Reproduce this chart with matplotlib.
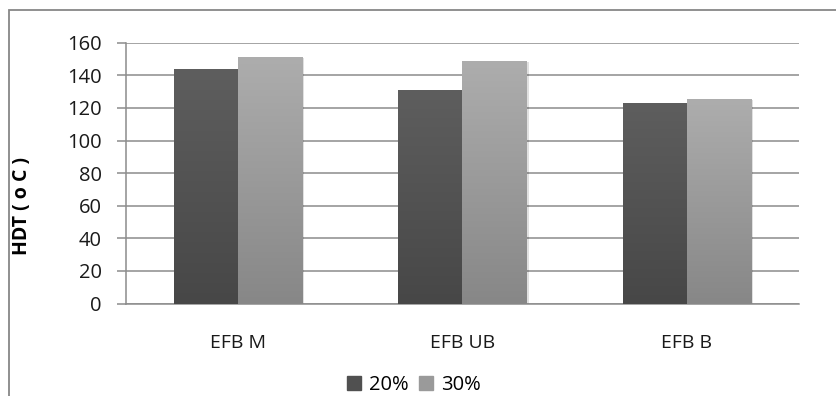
import numpy as np
import matplotlib.pyplot as plt
from matplotlib.colors import LinearSegmentedColormap
from matplotlib.patches import Rectangle

categories = ['EFB M', 'EFB UB', 'EFB B']
series_names = ['20%', '30%']
hdt_20 = [144, 131, 123]
hdt_30 = [151, 149, 125.5]
y_ticks = [0, 20, 40, 60, 80, 100, 120, 140, 160]

dark_top, dark_bottom = '#5e5e5e', '#474747'
light_top, light_bottom = '#adadad', '#878787'
grid_color = '#8c8c8c'

plt.rcParams['font.family'] = ['Open Sans', 'DejaVu Sans']

fig = plt.figure(figsize=(8.37, 3.96), dpi=100)
ax = fig.add_axes([126 / 837, 1 - 303.5 / 396, (799 - 126) / 837, (303.5 - 42.7) / 396])

# outer chart frame
fig.patches.append(Rectangle((9 / 837, -0.1), 1.1, 1 - 10 / 396 + 0.1,
                             transform=fig.transFigure, fill=False,
                             edgecolor='#878787', linewidth=1.3))

x = np.arange(len(categories))
width = 0.2853
b1 = ax.bar(x - width / 2, hdt_20, width, color=dark_top, zorder=3, label=series_names[0])
b2 = ax.bar(x + width / 2, hdt_30, width, color=light_top, zorder=3, label=series_names[1])

# vertical gradient fill on each bar
grad = np.linspace(0, 1, 256).reshape(-1, 1)
for bars, top, bottom in [(b1, dark_top, dark_bottom), (b2, light_top, light_bottom)]:
    cmap = LinearSegmentedColormap.from_list('g', [bottom, top])
    for p in bars:
        x0, w, h = p.get_x(), p.get_width(), p.get_height()
        # soft shadow
        ax.add_patch(Rectangle((x0 + 0.006, 0), w + 0.004, h - 0.6,
                               color='#000000', alpha=0.12, zorder=2.5, linewidth=0))
        ax.imshow(grad, extent=[x0, x0 + w, 0, h], origin='lower', cmap=cmap,
                  aspect='auto', zorder=4)

ax.set_xlim(-0.5, 2.5)
ax.set_ylim(0, 160)
ax.set_yticks(y_ticks)
ax.set_xticks(x)
ax.set_xticklabels(categories)
ax.tick_params(axis='y', length=6.5, width=1.1, color=grid_color, labelsize=14.5, pad=11)
ax.tick_params(axis='x', length=0, labelsize=14, pad=22)
for lbl in ax.get_yticklabels() + ax.get_xticklabels():
    lbl.set_color('#1a1a1a')

ax.yaxis.grid(True, color=grid_color, linewidth=1.1, zorder=0)
ax.set_axisbelow(True)
for s in ['top', 'right']:
    ax.spines[s].set_visible(False)
for s in ['left', 'bottom']:
    ax.spines[s].set_color(grid_color)
    ax.spines[s].set_linewidth(1.1)

fig.text(22 / 837, 1 - 206 / 396, 'HDT ( o C )', rotation=90, ha='center', va='center',
         fontsize=14, fontweight='bold', color='#000000')

h1 = Rectangle((0, 0), 1, 1, color='#505050')
h2 = Rectangle((0, 0), 1, 1, color='#9a9a9a')
fig.legend([h1, h2], series_names, loc='center', bbox_to_anchor=(414 / 837, 1 - 385 / 396),
           ncol=2, frameon=False, fontsize=14.5, handlelength=0.68, handleheight=0.68,
           handletextpad=0.38, columnspacing=0.55, borderpad=0)

fig.savefig('out.png', dpi=100, facecolor='white')
